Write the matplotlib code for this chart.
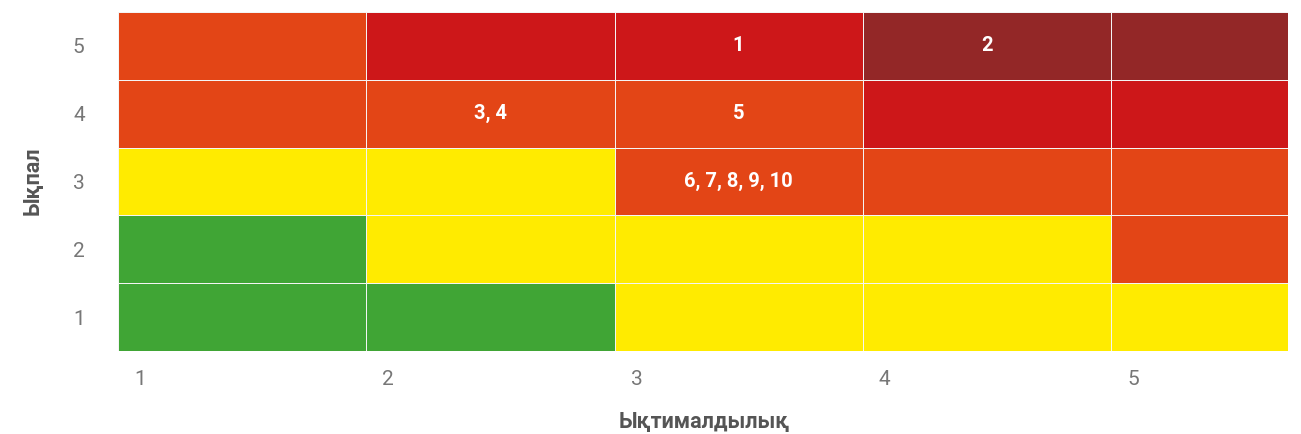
import numpy as np
import matplotlib.pyplot as plt
import matplotlib.transforms as mtransforms
from matplotlib.colors import ListedColormap, BoundaryNorm

plt.rcParams['font.family'] = ['Roboto', 'DejaVu Sans']

# likelihood (x) and impact (y) levels
likelihood = [1, 2, 3, 4, 5]
impact = [1, 2, 3, 4, 5]

# risk level per cell, rows = impact 1..5, cols = likelihood 1..5
# 0 green, 1 yellow, 2 orange, 3 red, 4 dark red
levels = [
    [0, 0, 1, 1, 1],
    [0, 1, 1, 1, 2],
    [1, 1, 2, 2, 2],
    [2, 2, 2, 3, 3],
    [2, 3, 3, 4, 4],
]
level_colors = ['#40a535', '#ffeb00', '#e34516', '#cd1719', '#932727']

# risk ids placed in cells: (likelihood, impact, text)
risk_x = [3, 4, 2, 3, 3]
risk_y = [5, 5, 4, 4, 3]
risk_text = ['1', '2', '3, 4', '5', '6, 7, 8, 9, 10']

fig = plt.figure(figsize=(13.01, 4.34), dpi=100)
ax = fig.add_axes([118/1301, 1 - 351/434, 1170/1301, 339/434])

cmap = ListedColormap(level_colors)
norm = BoundaryNorm(np.arange(-0.5, 5.5, 1), cmap.N)
xe = np.arange(1, 7)
ye = np.arange(0.5, 6.5)
ax.pcolormesh(xe, ye, np.array(levels), cmap=cmap, norm=norm,
              edgecolors='#f4f4f4', linewidth=0.6)

for x, y, t in zip(risk_x, risk_y, risk_text):
    ax.text(x + 0.5, y, t, ha='center', va='center', color='white',
            fontsize=14.5, fontweight='bold')

ax.set_xlim(1, 1 + 1170/248.25)
ax.set_ylim(0.5, 5.5)

ax.set_xticks(likelihood)
ax.set_xticklabels([str(v) for v in likelihood])
ax.set_yticks(impact)
ax.set_yticklabels([str(v) for v in impact])
ax.tick_params(length=0, labelsize=15, labelcolor='#777777')
ax.tick_params(axis='x', pad=14)
ax.tick_params(axis='y', pad=24)
offset = mtransforms.ScaledTranslation(22/100, 0, fig.dpi_scale_trans)
for lab in ax.get_xticklabels():
    lab.set_transform(lab.get_transform() + offset)

for s in ax.spines.values():
    s.set_visible(False)

fig.text(704/1301, 1 - 422/434, 'Ықтималдылық', ha='center', va='center',
         fontsize=15.5, fontweight='bold', color='#555555')
fig.text(33/1301, 1 - 181/434, 'Ықпал', ha='center', va='center',
         rotation=90, fontsize=15.5, fontweight='bold', color='#555555')

fig.savefig('out.png', dpi=100)
